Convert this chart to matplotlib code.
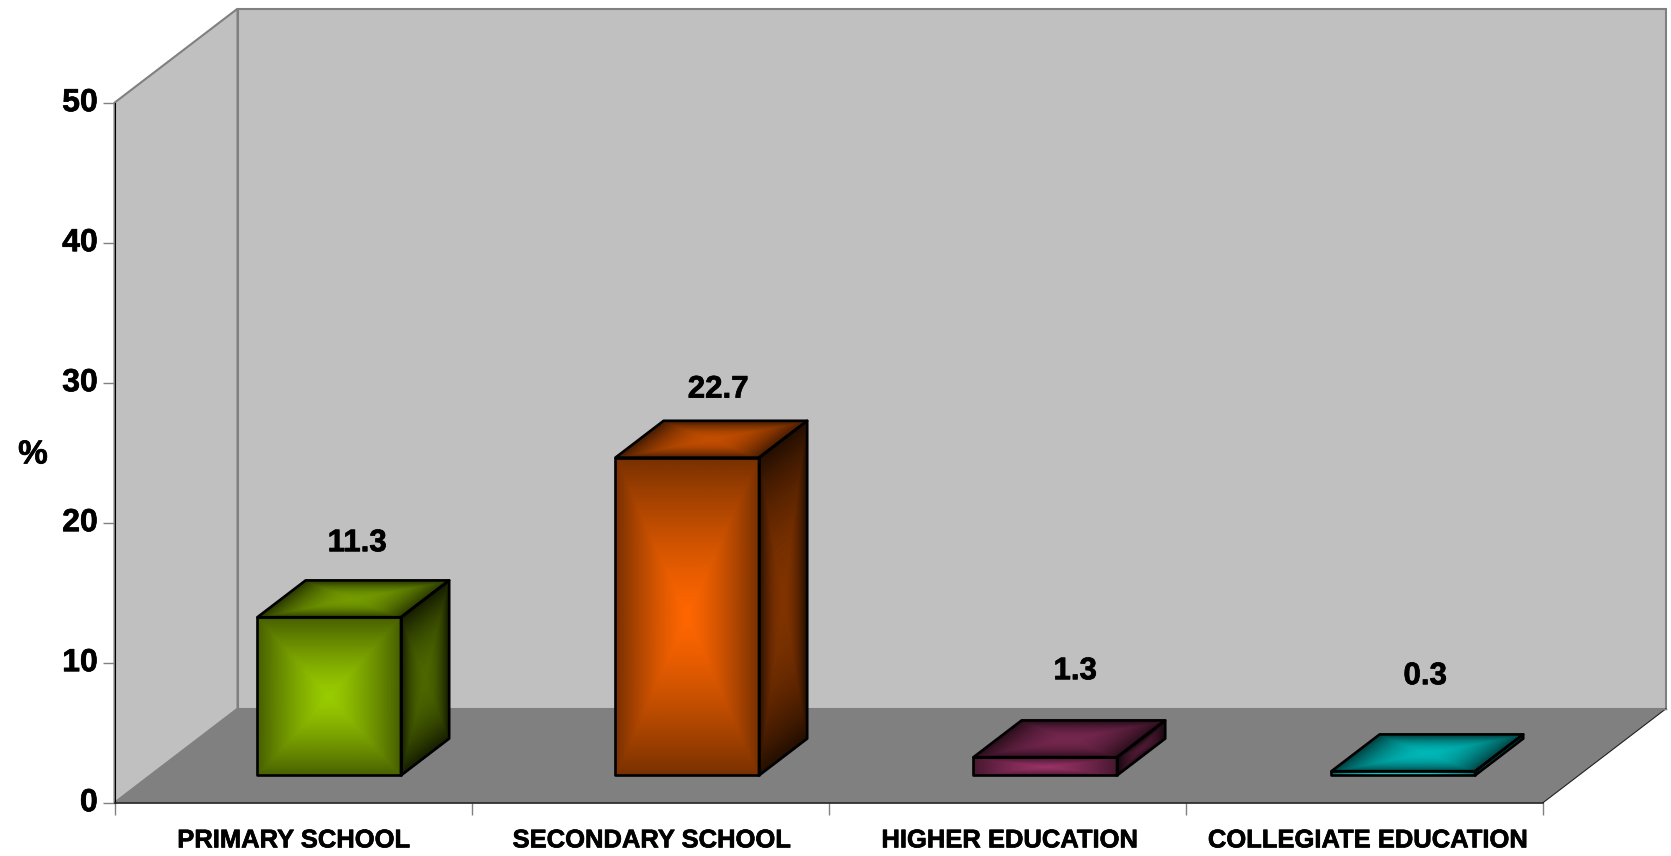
import numpy as np
import matplotlib
matplotlib.use("Agg")
import matplotlib.pyplot as plt
import matplotlib.patheffects as pe
from matplotlib.colors import LinearSegmentedColormap
from matplotlib.patches import Polygon
from matplotlib.transforms import ScaledTranslation

categories = ["PRIMARY SCHOOL", "SECONDARY SCHOOL", "HIGHER EDUCATION", "COLLEGIATE EDUCATION"]
values = [11.3, 22.7, 1.3, 0.3]
y_ticks = [0, 10, 20, 30, 40, 50]
y_label = "%"

# styles
base_colors = [(0x99, 0xCC, 0x00), (0xFF, 0x66, 0x00), (0x99, 0x33, 0x66), (0x00, 0xF0, 0xF0)]
label_offsets_px = [(28, 74), (31, 68), (30, 86), (22, 95)]
W, H = 1671, 856
L, R, T, B = 114.5, 1543, 102.7, 802.7
DEPTH_DX_PX, DEPTH_DY_PX = 123, 94
BAR_W, D0, D1, PITCH = 0.402, 0.29, 0.682, 1.0025
FONT = "Liberation Sans"
HEAVY = [pe.withStroke(linewidth=0.5, foreground="black")]

plt.rcParams["font.family"] = FONT
plt.rcParams["font.weight"] = "bold"

fig = plt.figure(figsize=(W / 100, H / 100), dpi=100, facecolor="white")
ax = fig.add_axes([L / W, (H - B) / H, (R - L) / W, (B - T) / H])
ax.set_xlim(0, len(categories))
ax.set_ylim(0, y_ticks[-1])
ax.patch.set_visible(False)

px_x = len(categories) / (R - L)
px_y = y_ticks[-1] / (B - T)


def project(x, y, d):
    """Oblique projection: depth d (0 front .. 1 back) shifts a point up and right."""
    return x + d * DEPTH_DX_PX * px_x, y + d * DEPTH_DY_PX * px_y


def quad(corners, **kw):
    pts = [project(*c) for c in corners]
    p = Polygon(pts, closed=True, clip_on=False, **kw)
    ax.add_patch(p)
    return p


xmax, ymax = len(categories), y_ticks[-1]
wall_kw = dict(facecolor="#C0C0C0", edgecolor="#808080", linewidth=1.5, zorder=1, joinstyle="miter")
quad([(0, 0, 1), (xmax, 0, 1), (xmax, ymax, 1), (0, ymax, 1)], **wall_kw)
quad([(0, 0, 0), (0, 0, 1), (0, ymax, 1), (0, ymax, 0)], **wall_kw)
quad([(0, 0, 0), (xmax, 0, 0), (xmax, 0, 1), (0, 0, 1)],
     facecolor="#808080", edgecolor="none", zorder=1.2)
x0f, y0f = project(xmax, 0, 0)
x1f, y1f = project(xmax, 0, 1)
ax.plot([x0f, x1f], [y0f, y1f], color="#202020", lw=0.8, clip_on=False, zorder=1.3)
ax.plot(*zip(project(0, 0, 1), project(xmax, 0, 1)), color="#808080", lw=1.0, clip_on=False, zorder=1.3)

n = 81
s = np.linspace(-1, 1, n)
U, V = np.meshgrid(s, s)
TT = np.maximum(np.abs(U), np.abs(V))


def shaded_face(xs, ys, ds, centre, edge, power):
    X, Y = project(xs, ys, ds)
    cmap = LinearSegmentedColormap.from_list("f", [centre, edge])
    ax.pcolormesh(X, Y, TT ** power, cmap=cmap, vmin=0, vmax=1, shading="gouraud",
                  clip_on=False, zorder=3)


def scaled(rgb, k):
    return tuple(c * k / 255 for c in rgb)


uu = (U + 1) / 2
vv = (V + 1) / 2
for i, (v, rgb) in enumerate(zip(values, base_colors)):
    xc = (i + 0.5) * PITCH
    x0 = xc - BAR_W / 2
    x1 = xc + BAR_W / 2
    # front
    shaded_face(x0 + uu * BAR_W, vv * v, np.full_like(uu, D0), scaled(rgb, 1.0), scaled(rgb, 0.47), 1.35)
    # top
    shaded_face(x0 + uu * BAR_W, np.full_like(uu, v), D0 + vv * (D1 - D0), scaled(rgb, 0.76), scaled(rgb, 0.28), 2.0)
    # side
    shaded_face(np.full_like(uu, x1), vv * v, D0 + uu * (D1 - D0), scaled(rgb, 0.50), scaled(rgb, 0.14), 2.0)
    edge = dict(fill=False, edgecolor="black", linewidth=1.9, zorder=4, joinstyle="round")
    quad([(x0, 0, D0), (x1, 0, D0), (x1, v, D0), (x0, v, D0)], **edge)
    quad([(x0, v, D0), (x1, v, D0), (x1, v, D1), (x0, v, D1)], **edge)
    quad([(x1, 0, D0), (x1, 0, D1), (x1, v, D1), (x1, v, D0)], **edge)
    ox, oy = label_offsets_px[i]
    tx, ty = project(xc, v, D0)
    ax.annotate(f"{v}", (tx, ty), xytext=(ox * 0.72, oy * 0.72), textcoords="offset points",
                ha="center", va="center", fontsize=22.5, fontweight="bold", color="black",
                annotation_clip=False, zorder=5, path_effects=HEAVY)

for side in ("top", "right"):
    ax.spines[side].set_visible(False)
ax.spines["left"].set_linewidth(0.8)
ax.spines["left"].set_color("black")
ax.spines["bottom"].set_linewidth(1.2)
ax.spines["bottom"].set_color("#202020")

ax.set_yticks(y_ticks)
ax.set_yticklabels([str(t) for t in y_ticks], fontsize=23, fontweight="bold", path_effects=HEAVY)
ax.tick_params(axis="y", length=8.6, width=1.0, color="#808080", pad=3.4)

ax.set_xticks(np.arange(len(categories) + 1), minor=True)
ax.tick_params(axis="x", which="minor", length=8.6, width=1.0, color="#808080")
ax.set_xticks((np.arange(len(categories)) + 0.5) * PITCH)
ax.set_xticklabels(categories, fontsize=18.4, fontweight="bold", path_effects=HEAVY)
ax.tick_params(axis="x", which="major", length=0, pad=18.5)

ax.set_ylabel(y_label, fontsize=24, fontweight="bold", rotation=0, labelpad=0, path_effects=HEAVY)
ax.yaxis.set_label_coords((33 - L) / (R - L), (B - 455) / (B - T))
ax.yaxis.label.set_va("center")
ax.yaxis.label.set_ha("center")

shift = ScaledTranslation(0, 3 / 100, fig.dpi_scale_trans)
for lab in ax.get_yticklabels():
    lab.set_transform(lab.get_transform() + shift)

fig.savefig("out.png", dpi=100, facecolor="white")
